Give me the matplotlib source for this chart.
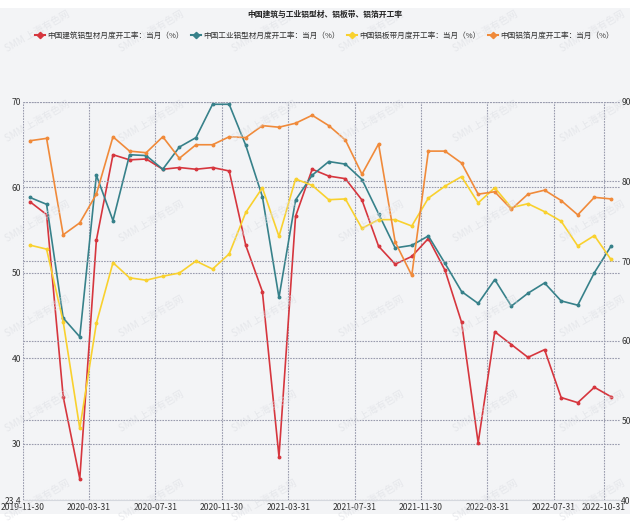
import matplotlib
matplotlib.use("Agg")
import matplotlib.pyplot as plt
from matplotlib.lines import Line2D
from matplotlib.patches import Rectangle

plt.rcParams['font.family'] = ['Noto Sans CJK SC', 'DejaVu Sans']

# monthly data, 2019-11 .. 2022-10
months = ["2019-11-30", "2020-03-31", "2020-07-31", "2020-11-30", "2021-03-31",
          "2021-07-31", "2021-11-30", "2022-03-31", "2022-07-31", "2022-10-31"]
tick_index = [0, 4, 8, 12, 16, 20, 24, 28, 32, 35]

building = [58.3, 56.8, 35.5, 25.9, 53.8, 63.8, 63.2, 63.3, 62.1, 62.3, 62.1, 62.3,
            61.9, 53.2, 47.8, 28.5, 56.6, 62.1, 61.3, 61.0, 58.5, 53.1, 51.0, 51.9,
            54.0, 50.3, 44.2, 30.1, 43.1, 41.6, 40.1, 41.0, 35.4, 34.8, 36.6, 35.5]
industrial = [58.8, 58.0, 44.7, 42.5, 61.4, 56.1, 63.8, 63.7, 62.1, 64.7, 65.8, 69.7,
              69.7, 64.9, 58.9, 47.1, 58.5, 61.4, 63.0, 62.7, 60.9, 56.9, 52.9, 53.2,
              54.3, 51.1, 47.8, 46.4, 49.2, 46.1, 47.6, 48.8, 46.7, 46.2, 50.0, 53.1]
plate = [72.0, 71.5, 62.4, 49.0, 62.2, 69.8, 67.9, 67.6, 68.1, 68.5, 70.0, 69.0,
         70.9, 76.1, 79.2, 73.1, 80.3, 79.5, 77.7, 77.8, 74.1, 75.2, 75.2, 74.4,
         77.9, 79.4, 80.6, 77.3, 79.2, 76.7, 77.2, 76.2, 75.0, 71.9, 73.2, 70.2]
foil = [85.1, 85.4, 73.3, 74.8, 78.4, 85.6, 83.8, 83.6, 85.6, 82.9, 84.6, 84.6,
        85.6, 85.5, 87.0, 86.8, 87.3, 88.3, 87.0, 85.2, 80.9, 84.7, 72.4, 68.2,
        83.8, 83.8, 82.3, 78.4, 78.7, 76.5, 78.4, 78.9, 77.6, 75.8, 78.0, 77.8]

names = ["中国建筑铝型材月度开工率：当月（%）", "中国工业铝型材月度开工率：当月（%）",
         "中国铝板带月度开工率：当月（%）", "中国铝箔月度开工率：当月（%）"]
colors = ["#d6363e", "#37818a", "#f9d12e", "#f08a3a"]

x = list(range(len(building)))
off = 0.44

fig = plt.figure(figsize=(6.3, 5.27), dpi=100, facecolor="white")
fig.patches.append(Rectangle((0, 0.025), 1, 0.96, transform=fig.transFigure,
                             facecolor="#f3f4f6", edgecolor="none", zorder=-10))

ax = fig.add_axes([0.036, 0.051, 0.948, 0.756])
ax.set_facecolor("#f3f4f6")
ax2 = ax.twinx()

ax.plot(x, building, color=colors[0], lw=1.2, marker="o", ms=1.8, zorder=3)
ax.plot(x, industrial, color=colors[1], lw=1.2, marker="o", ms=1.8, zorder=3)
ax2.plot(x, plate, color=colors[2], lw=1.2, marker="o", ms=1.8, zorder=3)
ax2.plot(x, foil, color=colors[3], lw=1.2, marker="o", ms=1.8, zorder=3)

ax.set_xlim(-off, 35.54)
ax.set_ylim(23.4, 70)
ax2.set_ylim(40, 90)
ax.set_xticks([t - off for t in tick_index])
ax.set_xticklabels(months)
ax.set_yticks([23.4, 30, 40, 50, 60, 70])
ax.set_yticklabels(["23.4", "30", "40", "50", "60", "70"])
ax2.set_yticks([40, 50, 60, 70, 80, 90])

gridkw = dict(color="#9a9cae", lw=0.8, linestyle=(0, (1.5, 1)))
ax.grid(True, axis="both", **gridkw)
ax2.grid(True, axis="y", **gridkw)
ax.set_axisbelow(True)

for a in (ax, ax2):
    for s in a.spines.values():
        s.set_visible(False)
    a.tick_params(length=0, labelsize=6.2, labelcolor="#333333", pad=2)
ax.spines["bottom"].set_visible(True)
ax.spines["bottom"].set_color("#d5d8de")
ax.tick_params(axis="y", pad=1)
ax2.tick_params(axis="y", pad=1)

fig.text(0.515, 0.972, "中国建筑与工业铝型材、铝板带、铝箔开工率", ha="center",
         va="center", fontsize=5.6, fontweight="bold", color="#222222")

handles = [Line2D([], [], color=c, lw=1.5, marker="D", ms=3.2) for c in colors]
fig.legend(handles, names, loc="center", bbox_to_anchor=(0.515, 0.932), ncol=4,
           frameon=False, fontsize=5.5, handlelength=1.3, handletextpad=0.3,
           columnspacing=1.0, labelcolor="#333333")

# watermark
for wy in [0.94, 0.77, 0.58, 0.40, 0.22, 0.05]:
    for wx in [0.06, 0.24, 0.42, 0.59, 0.77, 0.94]:
        fig.text(wx, wy, "SMM 上海有色网", rotation=30, ha="center", va="center",
                 fontsize=7, color="#dcdee3", alpha=0.6, zorder=0)

fig.savefig("out.png", dpi=100, facecolor=fig.get_facecolor())
